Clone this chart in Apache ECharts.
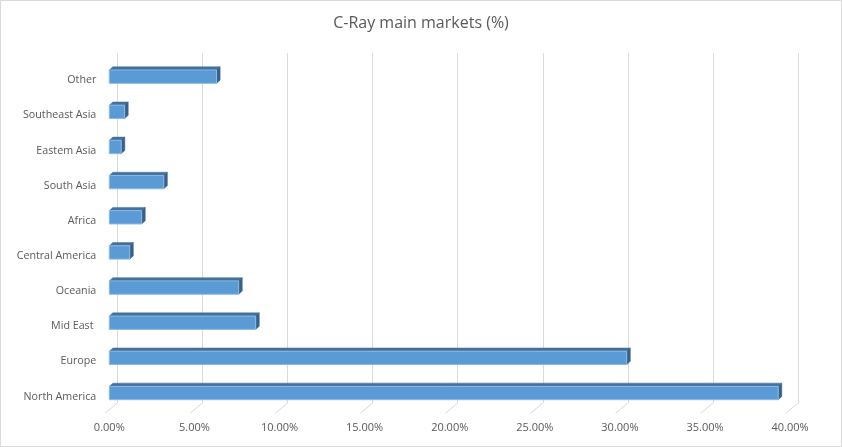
<!DOCTYPE html>
<html><head><meta charset="utf-8">
<script src="https://cdn.jsdelivr.net/npm/echarts@6/dist/echarts.min.js"></script>
<style>html,body{margin:0;padding:0;background:#fff}#c{width:842px;height:447px}</style>
</head><body><div id="c"></div>
<script>
const categories = ["North America","Europe","Mid East ","Oceania","Central America","Africa","South Asia","Eastem Asia","Southeast Asia","Other"];
const shares = [39.3, 30.4, 8.6, 7.6, 1.2, 1.9, 3.2, 0.7, 0.9, 6.3];
const ticks = [0, 5, 10, 15, 20, 25, 30, 35, 40];

const FONT = "'Open Sans', sans-serif";
const TXT = '#595959';
const DX = 3.6, DY = -3.2;

const chart = echarts.init(document.getElementById('c'), null, {renderer: 'canvas'});
chart.setOption({
  animation: false,
  backgroundColor: '#fff',
  title: {text: 'C-Ray main markets (%)', left: 'center', top: 10,
    textStyle: {fontFamily: FONT, fontSize: 16, fontWeight: 'normal', color: TXT}},
  graphic: [{type: 'rect', shape: {x: 0.5, y: 0.5, width: 841, height: 446},
    style: {fill: 'none', stroke: '#d9d9d9', lineWidth: 1}, silent: true}],
  grid: [
    {left: 109.3, right: 842 - 790.1, top: 59.1, bottom: 447 - 410.6},
    {left: 117.3, right: 842 - 798.1, top: 53, bottom: 447 - 403}
  ],
  xAxis: [
    {gridIndex: 0, type: 'value', min: 0, max: 40, interval: 5,
      axisLine: {show: false}, axisTick: {show: false}, splitLine: {show: false},
      axisLabel: {margin: 12, fontFamily: FONT, fontSize: 11, color: TXT,
        formatter: v => v.toFixed(2) + '%'}},
    {gridIndex: 1, type: 'value', min: 0, max: 40, interval: 5,
      axisLine: {show: false}, axisTick: {show: false}, axisLabel: {show: false},
      splitLine: {show: true, lineStyle: {color: '#d9d9d9', width: 1}}}
  ],
  yAxis: [
    {gridIndex: 0, type: 'category', data: categories,
      axisLine: {show: false}, axisTick: {show: false},
      axisLabel: {margin: 13, fontFamily: FONT, fontSize: 10.7, color: TXT,
        formatter: v => '{a|' + v + '}',
        rich: {a: {fontFamily: FONT, fontSize: 10.7, color: TXT, padding: [7, 0, 0, 0]}}}},
    {gridIndex: 1, type: 'value', min: 0, max: 1, show: false}
  ],
  series: [
    {type: 'custom', xAxisIndex: 1, yAxisIndex: 1, silent: true,
      data: ticks,
      renderItem: function (params, api) {
        const p = api.coord([api.value(0), 0]);
        return {type: 'line', shape: {x1: p[0], y1: p[1], x2: p[0] - 12.3, y2: p[1] + 10.3},
          style: {stroke: '#d9d9d9', lineWidth: 1}};
      },
      encode: {x: 0}
    },
    {type: 'custom', xAxisIndex: 0, yAxisIndex: 0,
      data: shares.map((v, i) => [v, i]),
      encode: {x: 0, y: 1},
      renderItem: function (params, api) {
        const v = api.value(0), c = api.value(1);
        const p0 = api.coord([0, c]);
        const p1 = api.coord([v, c]);
        const h = api.size([0, 1])[1] * 0.38;
        const x0 = p0[0], x1 = p1[0], yT = p0[1] - h / 2, yB = p0[1] + h / 2;
        return {type: 'group', children: [
          {type: 'polygon', shape: {points: [[x0, yT], [x0 + DX, yT + DY], [x1 + DX, yT + DY], [x1, yT]]},
            style: {fill: '#41719c', stroke: '#41719c', lineWidth: 0.5}},
          {type: 'polygon', shape: {points: [[x1, yT], [x1 + DX, yT + DY], [x1 + DX, yB + DY], [x1, yB]]},
            style: {fill: '#36618a', stroke: '#36618a', lineWidth: 0.5}},
          {type: 'rect', shape: {x: x0, y: yT, width: x1 - x0, height: h},
            style: {fill: '#5b9bd5', stroke: '#8fb9e2', lineWidth: 1}}
        ]};
      }
    }
  ]
});
</script>
</body></html>
